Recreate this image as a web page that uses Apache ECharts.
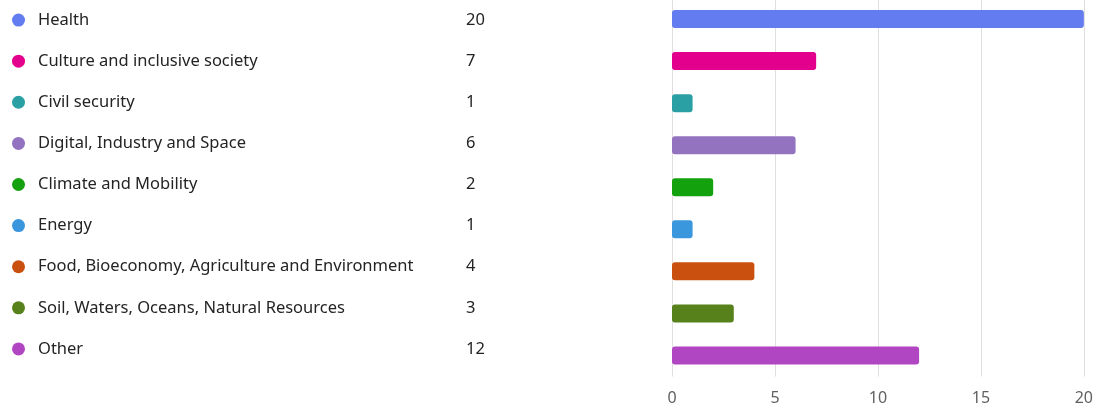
<!DOCTYPE html>
<html>
<head>
<meta charset="utf-8">
<script src="https://cdn.jsdelivr.net/npm/echarts@6/dist/echarts.min.js"></script>
<style>
  html, body { margin: 0; padding: 0; background: #ffffff; overflow: hidden; }
  #chart { width: 1096px; height: 414px; margin-top: -2px; }
</style>
</head>
<body>
<div id="chart"></div>
<script>
// Categories, counts and colours for each topic
const categories = [
  'Health',
  'Culture and inclusive society',
  'Civil security',
  'Digital, Industry and Space',
  'Climate and Mobility',
  'Energy',
  'Food, Bioeconomy, Agriculture and Environment',
  'Soil, Waters, Oceans, Natural Resources',
  'Other'
];
const counts = [20, 7, 1, 6, 2, 1, 4, 3, 12];
const colors = ['#637CEF', '#E3008C', '#2AA0A4', '#9373C0', '#13A10E', '#3A96DD', '#CA5010', '#57811B', '#B146C2'];
const xTicks = [0, 5, 10, 15, 20];

const FONT = 'Noto Sans';
const TEXT = '#242424';

// Rich text styles: one coloured dot style per category
const rich = {
  sp: { width: 13 },
  name: { width: 428, fontSize: 16.5, color: TEXT, fontFamily: FONT },
  val: { fontSize: 16.5, color: TEXT, fontFamily: FONT }
};
colors.forEach((c, i) => {
  rich['d' + i] = { width: 13, height: 13, borderRadius: 6.5, backgroundColor: c };
});

const chart = echarts.init(document.getElementById('chart'), null, { renderer: 'canvas' });
chart.setOption({
  animation: false,
  grid: [
    { left: 672, right: 7, top: 0, bottom: 35.5 },
    { left: 0, width: 600, top: 1.5, height: 370 }
  ],
  xAxis: [
    {
      gridIndex: 0, type: 'value', min: 0, max: 20, interval: 5,
      axisLine: { show: false }, axisTick: { show: false },
      splitLine: { lineStyle: { color: '#e1dfdd', width: 1 } },
      axisLabel: { color: '#616161', fontSize: 16, fontFamily: FONT, margin: 14,
        formatter: v => xTicks.includes(v) ? String(v) : '' }
    },
    { gridIndex: 1, type: 'value', show: false, min: 0, max: 1 }
  ],
  yAxis: [
    {
      gridIndex: 0, type: 'category', data: categories, inverse: true,
      axisLine: { show: false }, axisTick: { show: false }, axisLabel: { show: false },
      splitLine: { show: false }
    },
    {
      gridIndex: 1, type: 'category', data: categories, inverse: true,
      axisLine: { show: false }, axisTick: { show: false }, splitLine: { show: false },
      axisLabel: {
        align: 'left', margin: -12,
        formatter: (v, i) => '{d' + i + '|}{sp|}{name|' + v + '}{val|' + counts[i] + '}',
        rich: rich
      }
    }
  ],
  series: [
    {
      type: 'bar', xAxisIndex: 0, yAxisIndex: 0,
      barWidth: 18,
      data: counts.map((v, i) => ({ value: v, itemStyle: { color: colors[i] } })),
      itemStyle: { borderRadius: 3 }
    }
  ]
});
</script>
</body>
</html>
